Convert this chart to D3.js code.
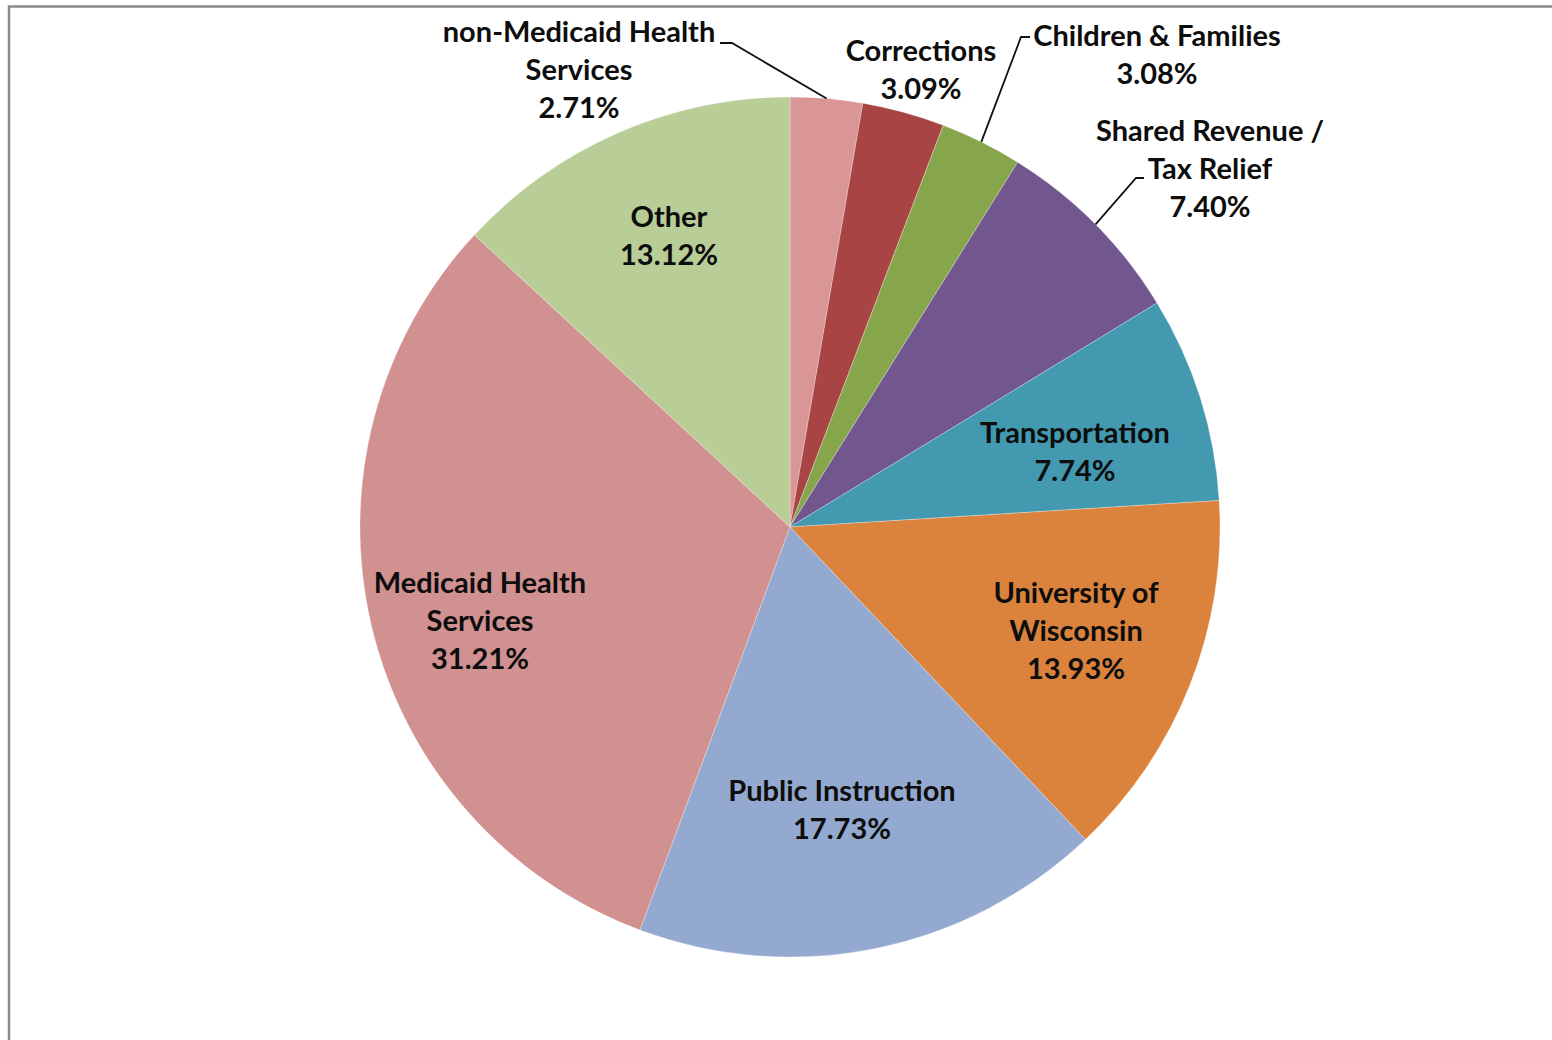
<!DOCTYPE html>
<html>
<head>
<meta charset="utf-8">
<script src="https://cdn.jsdelivr.net/npm/d3@7"></script>
<style>
	html, body { margin: 0; padding: 0; background: #fff; }
	svg { display: block; }
	.slice-label { font-family: Lato, "Open Sans", sans-serif; font-weight: bold; font-size: 29px; fill: #0d0d0d; }
</style>
</head>
<body>
<div id="chart"></div>
<script>
(function() {
	"use strict";

	// budget shares, clockwise from 12 o'clock
	var categories = [
		'non-Medicaid Health Services',
		'Corrections',
		'Children & Families',
		'Shared Revenue / Tax Relief',
		'Transportation',
		'University of Wisconsin',
		'Public Instruction',
		'Medicaid Health Services',
		'Other'
	];
	var shares = [2.71, 3.09, 3.08, 7.40, 7.74, 13.93, 17.73, 31.21, 13.12];
	var colors = ['#d99694', '#a84544', '#87a64b', '#72578f', '#4299b0', '#db833d', '#94a9d0', '#d09190', '#b9cd96'];

	// label lines as drawn in the chart
	var labelLines = [
		['non-Medicaid Health', 'Services'],
		['Corrections'],
		['Children & Families'],
		['Shared Revenue /', 'Tax Relief'],
		['Transportation'],
		['University of', 'Wisconsin'],
		['Public Instruction'],
		['Medicaid Health', 'Services'],
		['Other']
	];

	var width = 1552, height = 1040;
	var cx = 790, cy = 527, radius = 430;
	var lineHeight = 38;

	// label anchor: centre x, centre y of first line; leader: start point and elbow x
	var labelLayout = [
		{ x: 579, y: 32, leader: [720, 43, 732] },
		{ x: 921, y: 51 },
		{ x: 1157, y: 36, leader: [1030, 37, 1021] },
		{ x: 1210, y: 131, leader: [1144, 178, 1136] },
		{ x: 1075, y: 433 },
		{ x: 1076, y: 593 },
		{ x: 842, y: 791 },
		{ x: 480, y: 583 },
		{ x: 669, y: 217 }
	];

	var slices = categories.map(function (name, i) {
		return { name: name, value: shares[i], color: colors[i], lines: labelLines[i], layout: labelLayout[i] };
	});

	var svg = d3.select('#chart')
		.append('svg')
		.attr('width', width)
		.attr('height', height);

	// chart frame (top and left edges visible)
	svg.append('rect')
		.attr('x', 9)
		.attr('y', 6.5)
		.attr('width', width + 20)
		.attr('height', height + 20)
		.attr('fill', 'none')
		.attr('stroke', '#8a8a8a')
		.attr('stroke-width', 2.5);

	var pie = d3.pie()
		.sort(null)
		.value(function (d) { return d.value; });

	var arc = d3.arc()
		.innerRadius(0)
		.outerRadius(radius);

	var arcs = pie(slices);

	var g = svg.append('g')
		.attr('transform', 'translate(' + cx + ',' + cy + ')');

	g.selectAll('path.slice')
		.data(arcs)
		.enter()
		.append('path')
		.classed('slice', true)
		.attr('d', arc)
		.attr('fill', function (d) { return d.data.color; })
		.attr('stroke', 'rgba(255,255,255,0.35)')
		.attr('stroke-width', 0.8);

	// leader lines: label -> elbow -> slice edge at mid angle
	var leaders = arcs.filter(function (d) { return d.data.layout.leader; });
	svg.selectAll('path.leader')
		.data(leaders)
		.enter()
		.append('path')
		.classed('leader', true)
		.attr('fill', 'none')
		.attr('stroke', '#111')
		.attr('stroke-width', 1.8)
		.attr('d', function (d) {
			var l = d.data.layout.leader;
			var mid = (d.startAngle + d.endAngle) / 2;
			var ex = cx + radius * Math.sin(mid);
			var ey = cy - radius * Math.cos(mid);
			return d3.line()([[l[0], l[1]], [l[2], l[1]], [ex, ey]]);
		});

	var labels = svg.selectAll('text.slice-label')
		.data(arcs)
		.enter()
		.append('text')
		.classed('slice-label', true)
		.attr('text-anchor', 'middle');

	labels.each(function (d) {
		var text = d3.select(this);
		var rows = d.data.lines.concat([d.data.value.toFixed(2) + '%']);
		rows.forEach(function (row, i) {
			text.append('tspan')
				.attr('x', d.data.layout.x)
				.attr('y', d.data.layout.y + i * lineHeight + 10)
				.text(row);
		});
	});
}());
</script>
</body>
</html>
